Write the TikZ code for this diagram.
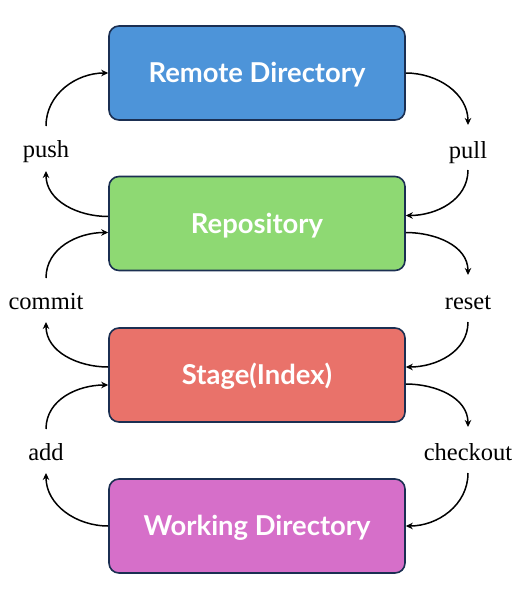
\documentclass[tikz,border=0pt]{standalone}
\usepackage{fontspec}
\setmainfont{Liberation Serif}
\newfontfamily\boxfont{Lato}
\usetikzlibrary{arrows.meta}
\definecolor{cblue}{HTML}{4D94D9}
\definecolor{cgreen}{HTML}{8ED973}
\definecolor{cred}{HTML}{E9726A}
\definecolor{cpink}{HTML}{D66FC9}
\definecolor{cborder}{HTML}{1B2F52}
\tikzset{
  box/.style={draw=cborder, line width=1.6pt, rounded corners=10pt,
    minimum width=296pt, minimum height=94pt, inner sep=0pt,
    text height=19.5pt, text depth=0pt,
    text=white, font=\boxfont\bfseries\fontsize{27.4}{30}\selectfont},
  lbl/.style={anchor=base, inner sep=0pt, font=\fontsize{24.5}{28}\selectfont},
  conn/.style={line width=1.5pt, -{Stealth[length=7pt,width=6.5pt]}}
}
\begin{document}
\begin{tikzpicture}[x=1pt,y=-1pt]
\useasboundingbox (0,0) rectangle (522,598);
\node[box, fill=cblue]  (remote) at (257,73)    {Remote Directory};
\node[box, fill=cgreen] (repo)   at (257,223.5) {Repository};
\node[box, fill=cred]   (stage)  at (257,375)   {Stage(Index)};
\node[box, fill=cpink]  (work)   at (257,526)   {Working Directory};

\node[lbl] (push)   at (46,157)  {push};
\node[lbl] (commit) at (46,309)  {commit};
\node[lbl] (add)    at (46,460)  {add};
\node[lbl] (pull)   at (468,158) {pull};
\node[lbl] (reset)  at (468,309) {reset};
\node[lbl] (checkout) at (468,460) {checkout};

% left side
\draw[conn] ([yshift=31pt]push.base) to[out=90,in=180] (remote.west);
\draw[conn] ([yshift=7pt]repo.west) to[out=180,in=-90] ([yshift=-14pt]push.base);
\draw[conn] ([yshift=31pt]commit.base) to[out=90,in=180] ([yshift=-9pt]repo.west);
\draw[conn] ([yshift=8pt]stage.west) to[out=180,in=-90] ([yshift=-13pt]commit.base);
\draw[conn] ([yshift=31pt]add.base) to[out=90,in=180] ([yshift=-10pt]stage.west);
\draw[conn] (work.west) to[out=180,in=-90] ([yshift=-13pt]add.base);

% right side
\draw[conn] (remote.east) to[out=0,in=90] ([yshift=33pt]pull.base);
\draw[conn] ([yshift=-12pt]pull.base) to[out=-90,in=0] ([yshift=8pt]repo.east);
\draw[conn] ([yshift=-9pt]repo.east) to[out=0,in=90] ([yshift=34pt]reset.base);
\draw[conn] ([yshift=-13pt]reset.base) to[out=-90,in=0] ([yshift=8pt]stage.east);
\draw[conn] ([yshift=-9pt]stage.east) to[out=0,in=90] ([yshift=33pt]checkout.base);
\draw[conn] ([yshift=-13pt]checkout.base) to[out=-90,in=0] (work.east);
\end{tikzpicture}
\end{document}
